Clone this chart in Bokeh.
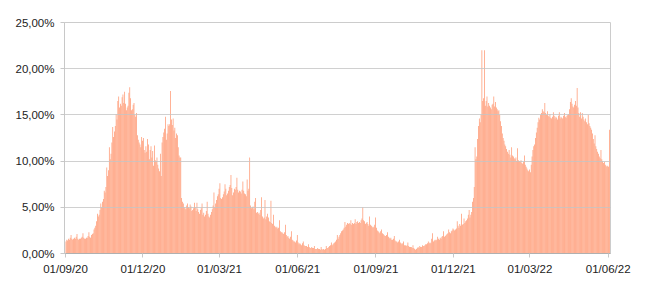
import pandas as pd
from bokeh.plotting import figure
from bokeh.models import FixedTicker, Range1d, ColumnDataSource
from bokeh.embed import file_html
from bokeh.resources import INLINE

# Daily positivity rate (%), 01/09/2020 -> 02/06/2022
start_date = "2020-09-01"
sep20 = [1.3,1.5,1.4,1.6,1.5,1.7,2.0,1.6,1.5,1.6,1.7,1.6,1.8,2.1,1.6,1.5,1.6,1.6,1.7,1.8,2.2,1.7,1.6,1.6,1.7,1.7,1.9,2.3,1.8,1.7]
oct20 = [2.0,2.1,2.2,2.6,2.8,3.0,3.5,4.3,4.0,4.2,4.7,5.4,5.0,5.6,5.9,6.8,6.6,7.2,9.3,8.4,9.0,11.5,10.2,10.8,12.0,13.7,12.6,13.2,13.8,15.1,14.5]
nov20 = [16.5,17.0,15.8,16.2,16.0,16.9,17.2,16.3,17.5,16.2,15.5,15.8,16.0,17.4,18.0,16.8,15.5,15.6,16.1,16.3,15.0,14.8,15.2,12.8,12.3,12.0,11.8,11.5,12.6,12.2]
dec20 = [12.5,11.2,10.9,11.6,11.0,12.4,11.8,10.2,11.2,11.6,10.4,11.1,9.5,11.7,10.1,10.0,10.4,9.6,9.2,8.9,10.8,8.4,12.0,12.6,13.1,13.5,14.8,12.3,13.0,14.0,13.8]
jan21 = [14.0,17.6,14.5,13.9,14.6,13.3,13.6,12.5,13.0,12.8,11.5,10.6,10.4,10.4,6.0,5.6,5.4,5.0,4.9,4.8,5.2,5.4,5.0,4.9,5.3,5.1,4.6,4.7,4.9,5.5,5.0]
feb21 = [4.6,5.5,4.8,4.5,4.3,4.7,4.9,5.4,4.2,4.4,4.0,4.2,4.6,5.6,4.3,4.0,3.9,4.2,4.5,4.8,5.2,6.6,5.0,5.4,5.8,6.2,6.4,7.0]
mar21 = [7.6,6.0,5.9,6.1,6.4,6.7,7.5,7.0,6.3,6.5,6.8,7.2,7.4,8.5,7.1,6.3,6.6,7.0,6.9,7.2,8.2,6.9,6.6,6.8,6.7,6.5,6.9,7.8,6.8,6.5,6.4]
apr21 = [6.2,8.0,6.8,7.0,10.4,5.2,4.9,5.0,5.1,4.8,5.6,6.0,4.4,4.5,4.3,4.4,4.2,4.7,6.1,4.0,3.8,3.9,5.8,3.7,4.0,4.3,3.9,3.5,3.4,5.7]
may21 = [3.3,3.2,4.2,3.0,2.9,2.8,2.9,2.7,2.8,3.6,2.4,2.3,2.3,2.2,2.1,2.3,3.1,2.0,1.8,1.9,1.7,1.6,1.8,2.4,1.5,1.4,1.3,1.3,1.2,1.4,2.0]
jun21 = [1.2,1.0,1.1,1.0,0.9,1.1,1.3,0.9,0.8,0.8,0.8,0.7,1.0,0.7,0.6,0.6,0.7,0.6,0.6,0.8,0.5,0.5,0.5,0.6,0.5,0.5,0.4,0.7,0.5,0.4]
jul21 = [0.5,0.4,0.5,0.8,0.6,0.6,0.7,0.8,0.9,1.2,0.9,1.0,1.1,1.2,1.3,1.5,2.0,1.6,1.8,2.0,2.2,2.4,2.5,2.6,2.8,3.4,2.9,3.1,3.3,3.2,3.3]
aug21 = [3.2,3.6,3.1,3.3,3.2,3.3,3.7,3.2,3.4,3.5,3.3,3.4,3.3,3.6,3.8,5.0,3.6,3.5,3.2,3.3,3.4,3.2,3.0,4.0,3.1,3.0,2.9,2.8,2.9,3.1,3.9]
sep21 = [2.8,2.5,2.4,2.3,2.2,2.4,2.6,2.2,2.1,2.0,1.9,1.9,2.0,2.3,1.8,1.7,1.6,1.7,1.5,1.5,1.6,1.9,1.4,1.3,1.3,1.2,1.3,1.5,1.2,1.1]
oct21 = [1.0,1.1,1.3,0.9,0.9,0.8,0.9,1.2,0.8,0.7,0.7,0.7,0.6,0.9,0.6,0.5,0.4,0.5,0.6,0.7,0.6,0.8,0.7,0.7,0.9,0.8,0.8,0.9,1.0,1.0,1.1]
nov21 = [1.3,1.1,1.2,1.1,1.6,2.2,1.3,1.4,1.5,1.4,1.5,1.8,1.6,1.5,1.7,1.6,1.8,1.9,2.4,1.8,1.9,2.0,2.1,2.2,2.6,2.3,2.2,2.4,2.5,2.7]
dec21 = [2.6,2.5,2.6,2.7,3.5,3.0,2.8,3.2,3.0,4.3,3.1,3.2,3.8,3.3,3.5,3.6,3.8,4.2,4.7,3.9,4.2,4.5,5.6,6.0,7.2,11.5,10.2,10.5,12.4,13.8,14.6]
jan22 = [14.2,15.0,22.0,16.5,16.8,22.0,16.0,16.5,17.0,15.9,16.3,16.0,15.8,15.6,16.1,16.2,17.0,15.9,16.4,15.8,15.6,15.4,15.5,15.0,14.3,13.8,13.0,12.5,12.2,11.8,11.6]
feb22 = [11.3,11.0,10.8,11.2,10.7,10.4,11.5,10.6,10.5,10.3,10.2,10.4,10.0,11.4,10.1,10.0,9.9,10.1,9.8,9.7,9.9,10.6,9.6,9.4,9.2,9.0,8.9,9.1]
mar22 = [8.8,9.6,10.5,11.2,11.6,11.8,12.5,13.1,13.6,14.2,14.7,14.5,15.0,15.2,15.6,15.4,15.3,16.3,15.2,15.0,15.4,14.9,14.8,15.1,14.7,14.6,14.8,15.3,14.9,14.6,14.8]
apr22 = [14.7,14.5,14.9,15.3,14.6,14.8,14.7,14.6,14.9,15.2,14.8,14.7,14.9,15.0,15.1,15.6,16.4,16.8,16.2,15.9,15.8,16.1,16.5,16.0,17.9,15.8,15.2,14.8,15.3,14.6]
may22 = [15.2,14.8,14.5,14.3,14.6,14.2,14.0,15.0,14.1,13.8,13.6,13.4,13.0,12.4,11.9,12.8,11.6,11.3,11.0,10.8,10.5,10.3,11.2,10.2,10.0,9.8,9.9,9.6,9.5,9.4,9.5]
jun22 = [9.4,13.4]

y_ticks = [0, 5, 10, 15, 20, 25]
y_tick_labels = ["0,00%", "5,00%", "10,00%", "15,00%", "20,00%", "25,00%"]
x_tick_dates = ["2020-09-01", "2020-12-01", "2021-03-01", "2021-06-01",
                "2021-09-01", "2021-12-01", "2022-03-01", "2022-06-01"]
x_tick_labels = ["01/09/20", "01/12/20", "01/03/21", "01/06/21",
                 "01/09/21", "01/12/21", "01/03/22", "01/06/22"]

values = (sep20 + oct20 + nov20 + dec20 + jan21 + feb21 + mar21 + apr21 + may21 +
          jun21 + jul21 + aug21 + sep21 + oct21 + nov21 + dec21 + jan22 + feb22 +
          mar22 + apr22 + may22 + jun22)
dates = pd.date_range(start_date, periods=len(values), freq="D") + pd.Timedelta(hours=12)

DAY = 86400000
source = ColumnDataSource(dict(x=dates, top=values))

x_start = pd.Timestamp("2020-08-30 19:00")
x_end = pd.Timestamp("2022-06-03 17:00")

p = figure(width=650, height=286, output_backend="svg", toolbar_location=None,
           x_axis_type="datetime",
           x_range=Range1d(x_start, x_end), y_range=Range1d(0, 25),
           min_border_left=64, min_border_right=40, min_border_top=22, min_border_bottom=33)
p.background_fill_color = "white"
p.border_fill_color = "white"
p.outline_line_color = "#cccccc"

p.vbar(x="x", top="top", width=0.9 * DAY, bottom=0, source=source,
       fill_color="#ff9b76", line_color=None)

tick_ms = [int(pd.Timestamp(d).value // 10**6) for d in x_tick_dates]
p.xaxis.ticker = FixedTicker(ticks=tick_ms)
p.xaxis.major_label_overrides = {t: l for t, l in zip(tick_ms, x_tick_labels)}
p.yaxis.ticker = FixedTicker(ticks=y_ticks)
p.yaxis.major_label_overrides = {t: l for t, l in zip(y_ticks, y_tick_labels)}

for ax in (p.xaxis[0], p.yaxis[0]):
    ax.major_label_text_font = "Liberation Sans"
    ax.major_label_text_font_size = "11.5px"
    ax.major_label_text_color = "#222222"
    ax.major_tick_in = 0
    ax.major_tick_out = 4
    ax.minor_tick_in = 0
    ax.minor_tick_out = 0
    ax.major_tick_line_color = "#c8c8c8"
    ax.axis_line_color = "#c8c8c8"
p.xaxis.major_label_standoff = 5
p.yaxis.major_label_standoff = 6
p.xaxis.axis_line_color = "#b0b0b0"

p.xgrid.grid_line_color = None
p.ygrid.grid_line_color = "#c4c4c4"
p.ygrid.grid_line_alpha = 0.8
p.ygrid.grid_line_width = 1
p.ygrid.level = "overlay"

open("out.html", "w").write(file_html(p, INLINE))
